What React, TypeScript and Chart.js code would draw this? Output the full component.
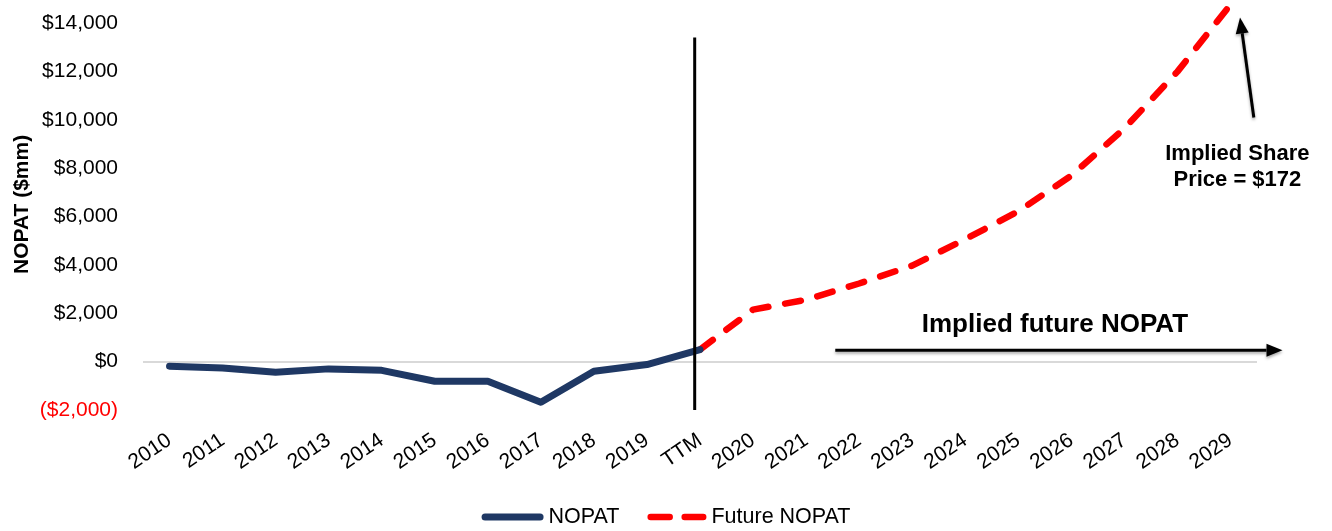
import React, { useEffect, useRef } from "react";
import { Chart, registerables } from "chart.js";

Chart.register(...registerables);

const categories = [
  "2010", "2011", "2012", "2013", "2014", "2015", "2016", "2017", "2018", "2019", "TTM",
  "2020", "2021", "2022", "2023", "2024", "2025", "2026", "2027", "2028", "2029",
];
// Historical NOPAT ($mm), 2010 .. TTM
const nopat = [-190, -260, -440, -300, -360, -810, -810, -1680, -400, -120, 500];
// Future NOPAT ($mm), TTM .. 2029
const futureNopat = [500, 2150, 2560, 3230, 3970, 5060, 6215, 7690, 9640, 11990, 14760];
const yMin = -2000;
const yMax = 14000;
const yStep = 2000;

const NAVY = "#1f3864";
const RED = "#ff0000";
const FONT = '"Liberation Sans", Arial, Helvetica, sans-serif';

const nopatSeries = [...nopat, ...Array(categories.length - nopat.length).fill(null)];
const futureSeries = [...Array(categories.length - futureNopat.length).fill(null), ...futureNopat];

function fmt(v: number) {
  const s = "$" + Math.abs(v).toLocaleString("en-US");
  return v < 0 ? "(" + s + ")" : s;
}

function arrow(ctx: CanvasRenderingContext2D, x1: number, y1: number, x2: number, y2: number, head: number, half: number) {
  const ang = Math.atan2(y2 - y1, x2 - x1);
  const bx = x2 - Math.cos(ang) * head;
  const by = y2 - Math.sin(ang) * head;
  ctx.beginPath();
  ctx.moveTo(x1, y1);
  ctx.lineTo(bx, by);
  ctx.stroke();
  ctx.beginPath();
  ctx.moveTo(x2, y2);
  ctx.lineTo(bx + Math.sin(ang) * half, by - Math.cos(ang) * half);
  ctx.lineTo(bx - Math.sin(ang) * half, by + Math.cos(ang) * half);
  ctx.closePath();
  ctx.fill();
}

const annotationPlugin = {
  id: "annotations",
  afterDatasetsDraw(chart: any) {
    const { ctx, chartArea, scales } = chart;
    const x = scales.x;
    const y = scales.y;
    const step = x.getPixelForValue(1) - x.getPixelForValue(0);
    ctx.save();
    // divider at TTM
    const vx = x.getPixelForValue(10) - step * 0.1;
    ctx.strokeStyle = "#000";
    ctx.lineWidth = 3;
    ctx.beginPath();
    ctx.moveTo(vx, y.getPixelForValue(13400));
    ctx.lineTo(vx, chartArea.bottom);
    ctx.stroke();

    // arrows with soft shadow
    ctx.fillStyle = "#000";
    ctx.lineWidth = 3;
    ctx.shadowColor = "rgba(0,0,0,0.35)";
    ctx.shadowBlur = 3;
    ctx.shadowOffsetY = 2;
    const ay = y.getPixelForValue(470);
    arrow(ctx, x.getPixelForValue(12.55), ay, x.getPixelForValue(20) + 52, ay, 16, 6.5);
    arrow(
      ctx,
      x.getPixelForValue(20.44), y.getPixelForValue(10090),
      x.getPixelForValue(20.18), y.getPixelForValue(14230),
      16, 6.5
    );
    ctx.shadowColor = "rgba(0,0,0,0)";

    ctx.fillStyle = "#000";
    ctx.textAlign = "center";
    ctx.textBaseline = "middle";
    ctx.font = "bold 26px " + FONT;
    ctx.fillText("Implied future NOPAT", x.getPixelForValue(16.69), y.getPixelForValue(1530));
    ctx.font = "bold 22px " + FONT;
    ctx.fillText("Implied Share", x.getPixelForValue(20.13), y.getPixelForValue(8600));
    ctx.fillText("Price = $172", x.getPixelForValue(20.13), y.getPixelForValue(7530));

    // y-axis title
    ctx.save();
    ctx.translate(22, y.getPixelForValue(6500));
    ctx.rotate(-Math.PI / 2);
    ctx.font = "bold 21px " + FONT;
    ctx.fillText("NOPAT ($mm)", 0, 0);
    ctx.restore();
    ctx.restore();
  },
  afterDraw(chart: any) {
    const { ctx } = chart;
    ctx.save();
    ctx.font = "21.5px " + FONT;
    ctx.textBaseline = "middle";
    ctx.textAlign = "left";
    const ly = 517;
    const items = [
      { label: "NOPAT", color: NAVY, width: 7, dash: [] as number[], sample: 62, cap: 3.5 },
      { label: "Future NOPAT", color: RED, width: 6.5, dash: [19, 15], sample: 59, cap: 3.25 },
    ];
    const textGap = 5;
    const itemGap = 28;
    let total = 0;
    items.forEach((it, i) => {
      total += it.sample + textGap + ctx.measureText(it.label).width + (i < items.length - 1 ? itemGap : 0);
    });
    let cx = chart.width / 2 - total / 2;
    items.forEach((it) => {
      ctx.strokeStyle = it.color;
      ctx.lineWidth = it.width;
      ctx.lineCap = "round";
      ctx.setLineDash(it.dash);
      ctx.beginPath();
      ctx.moveTo(cx + it.cap, ly);
      ctx.lineTo(cx + it.sample - it.cap, ly);
      ctx.stroke();
      ctx.setLineDash([]);
      cx += it.sample + textGap;
      ctx.fillStyle = "#000";
      ctx.fillText(it.label, cx, ly);
      cx += ctx.measureText(it.label).width + itemGap;
    });
    ctx.restore();
  },
};

export default function App() {
  const canvasRef = useRef<HTMLCanvasElement | null>(null);

  useEffect(() => {
    if (!canvasRef.current) return;
    const chart = new Chart(canvasRef.current, {
      type: "line",
      data: {
        labels: categories,
        datasets: [
          {
            label: "NOPAT",
            data: nopatSeries,
            borderColor: NAVY,
            backgroundColor: NAVY,
            borderWidth: 7,
            borderCapStyle: "round",
            borderJoinStyle: "round",
            pointRadius: 0,
            pointHoverRadius: 0,
            tension: 0,
            fill: false,
          },
          {
            label: "Future NOPAT",
            data: futureSeries,
            borderColor: RED,
            backgroundColor: RED,
            borderWidth: 6.5,
            borderDash: [16, 17],
            borderCapStyle: "round",
            borderJoinStyle: "round",
            pointRadius: 0,
            pointHoverRadius: 0,
            tension: 0,
            fill: false,
            clip: false,
          },
        ],
      },
      options: {
        animation: false,
        responsive: true,
        maintainAspectRatio: false,
        layout: { padding: { left: 0, right: 75, top: 23, bottom: 0 } },
        plugins: {
          legend: { display: false },
          tooltip: { enabled: false },
        },
        scales: {
          x: {
            offset: true,
            grid: { display: false, drawTicks: false },
            border: { display: false },
            ticks: {
              autoSkip: false,
              maxRotation: 34,
              minRotation: 34,
              padding: 18,
              color: "#000",
              font: { family: FONT, size: 21 },
            },
            afterFit(scale: any) {
              scale.height = 121;
            },
          },
          y: {
            min: yMin,
            max: yMax,
            ticks: {
              stepSize: yStep,
              padding: 25,
              color: (c: any) => (c.tick && c.tick.value < 0 ? RED : "#000"),
              font: { family: FONT, size: 21 },
              callback: (v: any) => fmt(Number(v)),
            },
            grid: {
              drawTicks: false,
              color: (c: any) => (c.tick && c.tick.value === 0 ? "#d9d9d9" : "rgba(0,0,0,0)"),
              lineWidth: 2,
            },
            border: { display: false },
            title: { display: false },
            afterFit(scale: any) {
              scale.width = 143;
              scale.paddingTop = 0;
              scale.paddingBottom = 0;
            },
          },
        },
      },
      plugins: [annotationPlugin],
    } as any);
    return () => chart.destroy();
  }, []);

  return (
    <div style={{ position: "absolute", left: 0, top: 0, width: 1332, height: 531, background: "#fff" }}>
      <canvas ref={canvasRef} />
    </div>
  );
}
